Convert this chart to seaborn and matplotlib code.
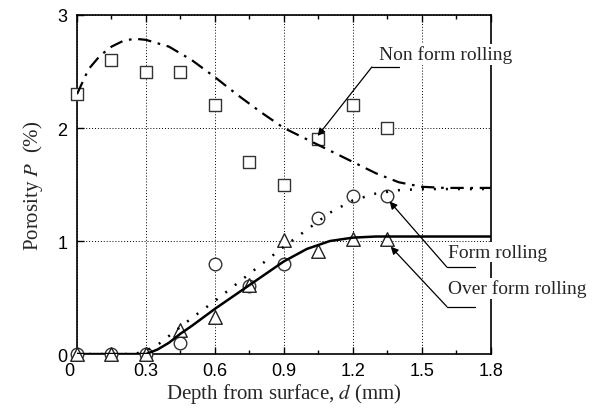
import numpy as np
import pandas as pd
import matplotlib
matplotlib.use("Agg")
import matplotlib.pyplot as plt
import matplotlib.transforms as mtransforms
import seaborn as sns

# measured points
depth = [0.0, 0.15, 0.30, 0.45, 0.60, 0.75, 0.90, 1.05, 1.20, 1.35]
non_form = [2.30, 2.60, 2.50, 2.50, 2.20, 1.70, 1.50, 1.90, 2.20, 2.00]
form = [0.0, 0.0, 0.0, 0.10, 0.80, 0.60, 0.80, 1.20, 1.40, 1.40]
over_form = [0.0, 0.0, 0.0, 0.21, 0.33, 0.61, 1.01, 0.91, 1.02, 1.02]

# fitted curves
cx_non = [0.0, 0.05, 0.10, 0.15, 0.20, 0.25, 0.30, 0.40, 0.50, 0.60, 0.70, 0.80,
          0.90, 1.00, 1.10, 1.20, 1.30, 1.40, 1.50, 1.60, 1.80]
cy_non = [2.30, 2.52, 2.64, 2.72, 2.77, 2.79, 2.78, 2.72, 2.60, 2.45, 2.29, 2.14,
          2.00, 1.90, 1.80, 1.70, 1.60, 1.52, 1.48, 1.47, 1.47]
cx_form = [0.0, 0.25, 0.30, 0.35, 0.40, 0.45, 0.50, 0.60, 0.70, 0.80, 0.90, 1.00,
           1.10, 1.20, 1.30, 1.40, 1.50, 1.80]
cy_form = [0.0, 0.0, 0.03, 0.08, 0.16, 0.24, 0.32, 0.47, 0.63, 0.79, 0.95, 1.10,
           1.25, 1.36, 1.42, 1.45, 1.46, 1.46]
cx_over = [0.0, 0.30, 0.35, 0.40, 0.45, 0.50, 0.60, 0.70, 0.75, 0.80, 0.90, 1.00,
           1.10, 1.20, 1.30, 1.80]
cy_over = [0.0, 0.0, 0.04, 0.10, 0.18, 0.25, 0.40, 0.54, 0.61, 0.68, 0.82, 0.93,
           1.00, 1.03, 1.04, 1.04]

xtick_vals = [0, 0.3, 0.6, 0.9, 1.2, 1.5, 1.8]
xtick_text = ["0", "0.3", "0.6", "0.9", "1.2", "1.5", "1.8"]

sns.set_style("ticks")
plt.rcParams['font.family'] = ['Liberation Sans', 'DejaVu Sans']
plt.rcParams['mathtext.fontset'] = 'stix'
serif = ['Liberation Serif', 'DejaVu Serif']

fig = plt.figure(figsize=(5.97, 4.10), dpi=100)
ax = fig.add_axes([0.129, 0.134, 0.693, 0.827])

pts = pd.DataFrame({"d": depth, "non": non_form, "form": form, "over": over_form})

sns.scatterplot(data=pts, x="d", y="non", marker="s", s=72, facecolor="white",
                edgecolor="#333333", linewidth=1.0, ax=ax, zorder=3, clip_on=False)
sns.scatterplot(data=pts, x="d", y="form", marker="o", s=82, facecolor="white",
                edgecolor="#333333", linewidth=1.0, ax=ax, zorder=3, clip_on=False)
sns.scatterplot(data=pts, x="d", y="over", marker="^", s=95, facecolor="white",
                edgecolor="#222222", linewidth=1.0, ax=ax, zorder=3, clip_on=False)

sns.lineplot(x=cx_non, y=cy_non, color="black", lw=1.6, ax=ax, zorder=4)
ax.lines[-1].set_dashes([6, 3, 1.2, 3])
sns.lineplot(x=cx_form, y=cy_form, color="black", lw=1.8, ax=ax, zorder=4)
ax.lines[-1].set_dashes([0.8, 4])
sns.lineplot(x=cx_over, y=cy_over, color="black", lw=1.8, ax=ax, zorder=4)

ax.set_xlim(0, 1.8)
ax.set_ylim(0, 3)
ax.set_xticks(xtick_vals)
ax.set_xticklabels(xtick_text)
ax.set_xticks(np.arange(0.15, 1.8, 0.3), minor=True)
ax.set_yticks([0, 1, 2, 3])
ax.tick_params(which="both", direction="in", top=True, right=False, labelsize=13,
               width=1.0, colors="black")
ax.tick_params(axis="x", pad=6)
ax.tick_params(axis="y", pad=7)
ax.tick_params(which="major", length=5)
ax.tick_params(which="minor", length=3)
ax.grid(True, which="major", linestyle=(0, (1, 2)), color="black", lw=0.7)
for sp in ax.spines.values():
    sp.set_visible(True)
    sp.set_linewidth(1.2)
    sp.set_color("black")

# the "0" on the x axis sits a bit left of the corner
shift = mtransforms.ScaledTranslation(-8 / 100, 0, fig.dpi_scale_trans)
first = ax.get_xticklabels()[0]
first.set_transform(first.get_transform() + shift)

ax.set_xlabel("Depth from surface, $d$ (mm)", fontsize=15, family=serif, labelpad=1)
ax.set_ylabel("Porosity $P$  (%)", fontsize=15, family=serif, labelpad=9)

box = dict(facecolor="white", edgecolor="none", pad=1.0)
arrow = dict(arrowstyle="-|>", color="black", lw=0.9, mutation_scale=11,
             shrinkA=0, shrinkB=0)

# Non form rolling
ax.text(1.315, 2.65, "Non form rolling", fontsize=14, family=serif, va="center",
        ha="left", bbox=box, clip_on=False, zorder=6)
ax.plot([1.40, 1.283], [2.54, 2.54], color="black", lw=0.9, zorder=5)
ax.annotate("", xy=(1.047, 1.93), xytext=(1.283, 2.54), arrowprops=arrow, zorder=5)

# Form rolling
ax.text(1.613, 0.90, "Form rolling", fontsize=14, family=serif, va="center",
        ha="left", bbox=box, clip_on=False, zorder=6)
ax.plot([1.73, 1.609], [0.77, 0.77], color="black", lw=0.9, zorder=5, clip_on=False)
ax.annotate("", xy=(1.36, 1.35), xytext=(1.609, 0.77), arrowprops=arrow, zorder=5)

# Over form rolling
ax.text(1.613, 0.58, "Over form rolling", fontsize=14, family=serif, va="center",
        ha="left", bbox=box, clip_on=False, zorder=6)
ax.plot([1.73, 1.609], [0.42, 0.42], color="black", lw=0.9, zorder=5, clip_on=False)
ax.annotate("", xy=(1.365, 0.95), xytext=(1.609, 0.42), arrowprops=arrow, zorder=5)

fig.savefig("out.png", dpi=100)
